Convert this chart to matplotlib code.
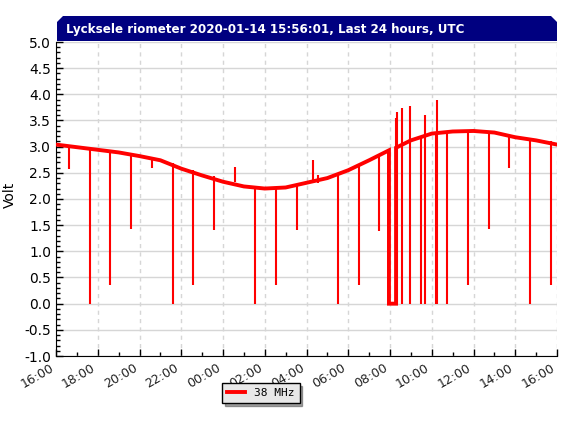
# Lycksele riometer, last 24 hours
import numpy as np
import matplotlib.pyplot as plt
from matplotlib.patches import Polygon

# --------------------------------------------------- data (hours after 2020-01-13 16:00 UTC)
base_t = [0, 1, 2, 3, 4, 5, 6, 7, 8, 9, 10, 11, 12, 13, 14, 15, 15.95, 15.95,
          16.29, 16.29, 17, 18, 19, 20, 21, 22, 23, 24]
base_v = [3.04, 2.99, 2.94, 2.89, 2.82, 2.74, 2.58, 2.45, 2.33, 2.24, 2.20, 2.22,
          2.31, 2.40, 2.55, 2.74, 2.93, 0.0, 0.0, 2.98, 3.12, 3.25, 3.29, 3.30,
          3.27, 3.18, 3.12, 3.04]

spike_t = [0.62, 1.63, 2.59, 3.59, 4.60, 5.60, 6.56, 7.57, 8.57, 9.53, 10.54,
           11.54, 12.31, 12.55, 13.51, 14.51, 15.47, 16.29, 16.35, 16.57, 16.96,
           17.49, 17.68, 18.20, 18.25, 18.73, 19.74, 20.74, 21.70, 22.71, 23.71]
spike_lo = [2.58, 0.0, 0.36, 1.42, 2.60, 0.0, 0.36, 1.40, 2.33, 0.0, 0.36,
            1.40, 2.31, 2.31, 0.0, 0.36, 1.38, 0.0, 0.0, 0.0, 0.0,
            0.0, 0.0, 0.0, 0.0, 0.0, 0.36, 1.43, 2.60, 0.0, 0.36]
spike_hi = [3.02, 2.97, 2.93, 2.87, 2.78, 2.68, 2.56, 2.43, 2.62, 2.22, 2.20,
            2.25, 2.75, 2.45, 2.50, 2.66, 2.85, 3.54, 3.67, 3.73, 3.77,
            3.20, 3.61, 3.25, 3.90, 3.27, 3.30, 3.29, 3.23, 3.17, 3.10]

tick_labels = ["16:00", "18:00", "20:00", "22:00", "00:00", "02:00", "04:00",
               "06:00", "08:00", "10:00", "12:00", "14:00", "16:00"]

# --------------------------------------------------- figure
fig = plt.figure(figsize=(5.67, 4.26), dpi=100)
W, H = 567.0, 426.0
ax = fig.add_axes([56 / W, 1 - 356 / H, 501 / W, 314 / H])

line, = ax.plot(base_t, base_v, color='red', lw=2.8, label='38 MHz', zorder=3,
                solid_joinstyle='miter')
ax.vlines(spike_t, spike_lo, spike_hi, color='red', lw=1.5, zorder=3)

ax.set_xlim(0, 24)
ax.set_ylim(-1.0, 5.0)
ax.set_xticks(np.arange(0, 25, 2))
ax.set_xticks(np.arange(0, 25, 1), minor=True)
ax.set_xticklabels(tick_labels, rotation=30, ha='right', fontsize=9, color='#222222')
ax.set_yticks(np.arange(-1.0, 5.01, 0.5))
ax.set_yticks(np.arange(-1.0, 5.01, 0.1), minor=True)
ax.set_yticklabels(["%.1f" % v for v in np.arange(-1.0, 5.01, 0.5)], fontsize=10)
ax.tick_params(which='major', direction='in', length=5, width=1)
ax.tick_params(which='minor', direction='in', length=3, width=1)

ax.grid(axis='y', which='major', color='#d6d6d6', lw=1, ls='-')
ax.grid(axis='x', which='major', color='#d6d6d6', lw=1, ls=(0, (3, 3)))
ax.set_axisbelow(True)
for s in ['top', 'right']:
    ax.spines[s].set_visible(False)

fig.text(10 / W, 1 - 195 / H, "Volt", rotation=90, va='center', ha='center', fontsize=10)

# --------------------------------------------------- title banner
pts = [(57, 41), (57, 22), (63, 16), (551, 16), (557, 22), (557, 41)]
banner = Polygon([(x / W, 1 - y / H) for x, y in pts], closed=True,
                 facecolor='#000080', edgecolor='none', transform=fig.transFigure)
fig.add_artist(banner)
fig.text(66 / W, 1 - 30 / H, "Lycksele riometer 2020-01-14 15:56:01, Last 24 hours, UTC",
         color='white', fontsize=8.6, fontweight='bold', va='center', ha='left')

# --------------------------------------------------- legend
leg = fig.legend(handles=[line], loc='center', bbox_to_anchor=(261 / W, 1 - 393 / H),
                 frameon=True, fancybox=False, shadow=True,
                 handlelength=1.6, borderpad=0.45,
                 prop={'family': 'DejaVu Sans Mono', 'size': 8})
leg.get_frame().set_edgecolor('black')
leg.get_frame().set_facecolor('#e8e8e8')
leg.get_frame().set_linewidth(1)

fig.savefig("out.png", dpi=100)
